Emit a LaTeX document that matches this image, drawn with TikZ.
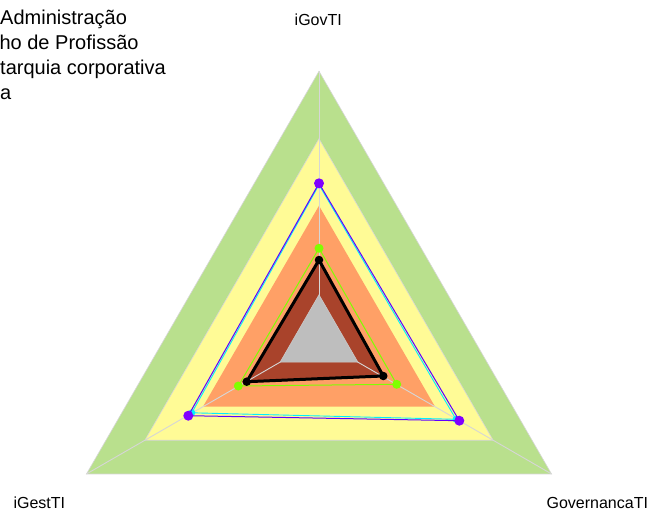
\documentclass[tikz,border=0pt]{standalone}
\usepackage{fontspec}
\setmainfont{Liberation Sans}
\definecolor{bandgreen}{HTML}{B9E08D}
\definecolor{bandyellow}{HTML}{FFFB96}
\definecolor{bandorange}{HTML}{FFA066}
\definecolor{bandbrown}{HTML}{A9432B}
\definecolor{bandgray}{HTML}{BEBEBE}
\definecolor{axisgray}{HTML}{D6D6D6}
\definecolor{serpurple}{HTML}{7F00FF}
\definecolor{sercyan}{HTML}{00F0FF}
\definecolor{sergreen}{HTML}{80FF00}
\tikzset{
  band/.style={draw=axisgray, line width=0.6pt},
  axisline/.style={draw=axisgray, line width=0.9pt},
  titletext/.style={anchor=base west, inner sep=0pt, font=\fontsize{20}{24}\selectfont},
  axislabel/.style={anchor=base, inner sep=0pt, font=\fontsize{16}{19}\selectfont},
  dotmark/.style={circle, inner sep=0pt, minimum size=#1},
}
\begin{document}
\begin{tikzpicture}[x=1pt,y=-1pt]
\useasboundingbox (0,0) rectangle (650,511);
\fill[white] (0,0) rectangle (650,511);
% centre and outer vertices
\coordinate (C) at (319,339.7);
\coordinate (GT) at (319,71.2);
\coordinate (GL) at (86.5,473.95);
\coordinate (GR) at (551.5,473.95);
\coordinate (YT) at (319,138.7);
\coordinate (YL) at (144.9,440.2);
\coordinate (YR) at (493.1,440.2);
\coordinate (OT) at (319,205.7);
\coordinate (OL) at (202.95,406.7);
\coordinate (OR) at (435.05,406.7);
\coordinate (AT) at (319,294.7);
\coordinate (AL) at (280.03,362.2);
\coordinate (AR) at (357.97,362.2);
% bands
\fill[bandgreen, band] (GT) -- (GL) -- (GR) -- cycle;
\fill[bandyellow, band] (YT) -- (YL) -- (YR) -- cycle;
\fill[bandorange] (OT) -- (OL) -- (OR) -- cycle;
% black series points
\coordinate (KT) at (319,260);
\coordinate (KL) at (246.7,381.7);
\coordinate (KR) at (383.3,376);
\fill[bandbrown] (KT) -- (KL) -- (KR) -- cycle;
% axes
\draw[axisline] (C) -- (GT);
\draw[axisline] (C) -- (GL);
\draw[axisline] (C) -- (GR);
\fill[bandgray, draw=axisgray!60!bandgray, line width=0.5pt] (AT) -- (AL) -- (AR) -- cycle;
% green series
\coordinate (ET) at (319,248.3);
\coordinate (EL) at (238.3,386);
\coordinate (ER) at (396.7,384.3);
\draw[sergreen, line width=1pt] (ET) -- (EL) -- (ER) -- cycle;
% cyan series
\coordinate (QT) at (319,184.8);
\coordinate (QL) at (191.8,412.8);
\coordinate (QR) at (456,419.3);
\draw[sercyan, line width=0.9pt] (QT) -- (QL) -- (QR) -- cycle;
\foreach \p in {QT,QL,QR} \node[dotmark=7pt, fill=sercyan] at (\p) {};
% purple series
\coordinate (PT) at (319,183.3);
\coordinate (PL) at (188.3,415.7);
\coordinate (PR) at (459.3,420.7);
\draw[serpurple!75!blue, line width=1pt] (PT) -- (PL) -- (PR) -- cycle;
\node[dotmark=10pt, fill=serpurple] (pt) at (PT) {};
\node[dotmark=10pt, fill=serpurple] (pl) at (PL) {};
\node[dotmark=10pt, fill=serpurple] (pr) at (PR) {};
% green dots
\node[dotmark=9pt, fill=sergreen] (et) at (ET) {};
\node[dotmark=9pt, fill=sergreen] (el) at (EL) {};
\node[dotmark=9pt, fill=sergreen] (er) at (ER) {};
% black series line
\draw[black, line width=3pt, line join=round] (KT) -- (KL) -- (KR) -- cycle;
\node[dotmark=8.5pt, fill=black] (kt) at (KT) {};
\node[dotmark=8.5pt, fill=black] (kl) at (KL) {};
\node[dotmark=8.5pt, fill=black] (kr) at (KR) {};
% labels
\node[axislabel] (lgov) at (318.3,26) {iGovTI};
\node[axislabel] (lgest) at (39.3,508.3) {iGestTI};
\node[axislabel] (lgovern) at (597.3,508.3) {GovernancaTI};
% title
\node[titletext] (t1) at (0,25) {Administração};
\node[titletext] (t2) at (-0.6,50) {ho de Profissão};
\node[titletext] (t3) at (0,74.5) {tarquia corporativa};
\node[titletext] (t4) at (0,99.5) {a};
\end{tikzpicture}
\end{document}
